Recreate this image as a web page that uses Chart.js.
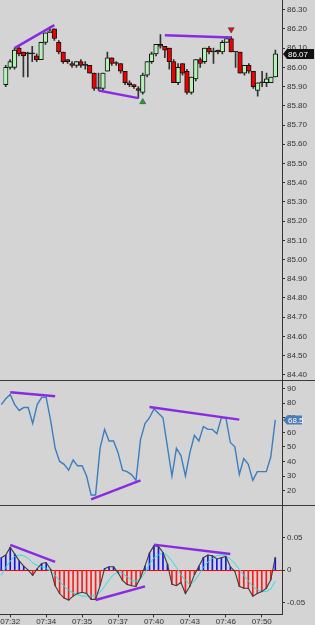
<!DOCTYPE html>
<html>
<head>
<meta charset="utf-8">
<script src="https://cdn.jsdelivr.net/npm/chart.js@4.4.0/dist/chart.umd.min.js"></script>
<style>
  html, body { margin:0; padding:0; background:#d4d4d4; }
  #page { position:relative; width:315px; height:625px; overflow:hidden; background:#d4d4d4; }
  .pane { position:absolute; left:0; width:315px; overflow:hidden; }
  .pane canvas { position:absolute; left:-1px; top:-5px; }
  .sep { position:absolute; left:0; width:315px; height:1px; background:#3a3a3a; }
  #axisLine { position:absolute; left:282px; top:0; width:1px; height:614px; background:#333; }
</style>
</head>
<body>
<div id="page">
  <div class="pane" style="top:0;height:380px"><canvas id="priceChart" width="316" height="390"></canvas></div>
  <div class="pane" style="top:380px;height:125px"><canvas id="rsiChart" width="316" height="135"></canvas></div>
  <div class="pane" style="top:505px;height:120px"><canvas id="macdChart" width="316" height="127"></canvas></div>
  <div class="sep" style="top:380px"></div>
  <div class="sep" style="top:505px"></div>
  <div id="axisLine"></div>
</div>
<script>
// velas (una por barra)
var opens  = [85.91,86.00,86.00,86.10,86.08,86.07,86.07,86.06,86.04,86.13,
              86.18,86.20,86.13,86.08,86.04,86.02,86.01,86.03,86.01,86.01,
              85.97,85.89,85.89,85.98,86.05,86.02,86.02,85.98,85.92,85.91,
              85.89,85.87,85.96,86.03,86.07,86.12,86.11,86.10,86.03,85.92,
              86.02,85.98,85.87,85.94,86.04,86.03,86.10,86.08,86.09,86.08,
              86.13,86.15,86.08,86.08,85.97,86.01,85.98,85.88,85.92,85.92,
              85.92,85.95];
var highs  = [86.01,86.04,86.10,86.11,86.08,86.08,86.11,86.07,86.13,86.18,
              86.21,86.20,86.14,86.08,86.04,86.03,86.03,86.04,86.03,86.01,
              85.97,85.97,85.97,86.08,86.05,86.03,86.02,85.98,85.93,85.91,
              85.90,85.97,86.03,86.08,86.12,86.17,86.11,86.10,86.04,86.02,
              86.02,85.99,85.95,86.04,86.05,86.10,86.11,86.10,86.09,86.14,
              86.16,86.16,86.08,86.08,86.01,86.02,85.98,85.92,85.98,85.97,
              85.95,86.09];
var lows   = [85.90,85.99,85.99,86.06,85.95,85.95,86.03,86.03,86.04,86.12,
              86.18,86.14,86.07,86.02,86.02,86.00,86.00,86.00,85.99,85.97,
              85.88,85.88,85.88,85.98,86.01,86.01,85.97,85.91,85.90,85.89,
              85.84,85.86,85.95,86.02,86.06,86.10,86.05,85.99,85.92,85.91,
              85.96,85.86,85.86,85.93,86.00,86.02,86.07,86.02,86.07,86.07,
              86.13,86.08,86.00,85.97,85.96,85.97,85.89,85.85,85.90,85.90,
              85.92,85.95];
var closes = [86.00,86.03,86.09,86.07,86.06,86.07,86.07,86.04,86.13,86.18,
              86.19,86.15,86.08,86.03,86.03,86.01,86.03,86.01,86.01,85.97,
              85.89,85.89,85.97,86.05,86.02,86.02,85.98,85.92,85.91,85.90,
              85.88,85.96,86.03,86.07,86.12,86.11,86.09,86.03,85.92,86.00,
              85.97,85.87,85.95,86.04,86.02,86.10,86.08,86.08,86.08,86.13,
              86.15,86.08,86.08,85.97,86.01,85.98,85.90,85.92,85.92,85.94,
              85.95,86.07];

// oscilador
var rsi = [79,83,86,79,75,77,77,66,79,84,
           84,68,49,40,38,34,41,37,37,30,
           17,17,49,62,54,54,46,34,33,31,
           27,55,66,70,76,73,70,50,30,49,
           44,30,46,58,54,64,62,62,59,70,
           70,53,50,31,42,38,27,33,33,33,
           43,68.5];

// macd e histograma
var macd = [0.019,0.023,0.035,0.0245,0.014,0.006,0.0,-0.008,0.002,0.010,
            0.0115,0.001,-0.024,-0.036,-0.043,-0.046,-0.040,-0.036,-0.034,-0.036,
            -0.045,-0.045,-0.024,0.002,0.005,0.005,-0.004,-0.016,-0.022,-0.024,
            -0.025,-0.012,0.006,0.026,0.0375,0.036,0.027,0.009,-0.022,-0.024,
            -0.019,-0.036,-0.025,-0.007,0.006,0.019,0.023,0.022,0.017,0.019,
            0.021,0.005,-0.002,-0.025,-0.028,-0.028,-0.040,-0.036,-0.033,-0.028,
            -0.015,0.019];
var signal = [-0.008,0.004,0.014,0.021,0.023,0.022,0.018,0.011,0.007,0.005,
              0.003,-0.002,-0.008,-0.017,-0.025,-0.031,-0.035,-0.038,-0.040,-0.040,
              -0.040,-0.039,-0.034,-0.025,-0.015,-0.007,-0.003,-0.005,-0.010,-0.016,
              -0.017,-0.014,-0.004,0.009,0.019,0.023,0.027,0.022,0.014,0.004,
              -0.007,-0.016,-0.022,-0.017,-0.007,0.004,0.0125,0.018,0.022,0.023,
              0.022,0.017,0.010,0.001,-0.008,-0.017,-0.025,-0.030,-0.033,-0.033,
              -0.029,-0.017];

// etiquetas de hora (indice de barra, texto)
var tickIdx = [2,10,18,26,34,42,50,58];
var tickTxt = ['07:32','07:34','07:35','07:37','07:40','07:43','07:46','07:50'];

// divergencias: [barra inicio, valor, barra fin, valor]
var priceDiv = [[2,86.10,11,86.22],[21,85.88,30,85.84],[36,86.167,51,86.156]];
var rsiDiv   = [[2,87.5,12,84.7],[20,14,31,27],[33,77.3,53,68.7]];
var macdDiv  = [[2,0.0386,12,0.0125],[21,-0.0458,32,-0.025],[34,0.039,51,0.0245]];
var buyMark  = [31,85.82];
var sellMark = [51,86.197];

var nSlots = 63;   // 62 barras + un hueco a la derecha
var labels = [];
for (var i = 0; i < nSlots; i++) labels.push('');
for (var i = 0; i < tickIdx.length; i++) labels[tickIdx[i]] = tickTxt[i];

Chart.defaults.font.family = '"Liberation Sans", Arial, sans-serif';
Chart.defaults.animation = false;

var purple = '#8a2be2';
function divSets(list) {
  return list.map(function(d){
    var data = [];
    for (var i = 0; i < nSlots; i++) data.push(null);
    data[d[0]] = d[1]; data[d[2]] = d[3];
    return {type:'line', data:data, spanGaps:true, borderColor:purple, borderWidth:2.5,
            pointRadius:0, order:0, clip:false};
  });
}
function markSet(m, color, rot) {
  var data = [];
  for (var i = 0; i < nSlots; i++) data.push(null);
  data[m[0]] = m[1];
  return {type:'line', data:data, showLine:false, pointStyle:'triangle', pointRadius:3.5,
          pointRotation:rot, pointBackgroundColor:color, pointBorderColor:'#333',
          pointBorderWidth:0.5, order:0, clip:false};
}
function yAxis(min, max, step, fmt) {
  return {
    position:'right', min:min, max:max,
    border:{display:false},
    grid:{drawOnChartArea:false, tickLength:3, tickColor:'#333'},
    ticks:{stepSize:step, includeBounds:false, padding:2, color:'#333', font:{size:8}, callback:fmt},
    afterFit:function(s){ s.width = 33; }
  };
}
var hiddenX = {offset:true, display:false};

// etiqueta del ultimo valor sobre el eje
var valueTag = {
  id:'valueTag',
  afterDatasetsDraw:function(chart, args, o){
    var y = chart.scales.y.getPixelForValue(o.value);
    var x = chart.chartArea.right;
    var c = chart.ctx;
    c.save();
    c.fillStyle = o.bg;
    c.beginPath();
    c.moveTo(x + 1, y);
    c.lineTo(x + 5, y - o.h/2);
    c.lineTo(x + o.w, y - o.h/2);
    c.lineTo(x + o.w, y + o.h/2);
    c.lineTo(x + 5, y + o.h/2);
    c.closePath();
    c.fill();
    c.fillStyle = '#fff';
    c.font = '8px "Liberation Sans", Arial';
    c.textBaseline = 'middle';
    c.fillText(o.text, x + 6, y + 0.5);
    c.restore();
  }
};

// Grafica de precio (velas)
var wicks = [], bodies = [], bodyColors = [];
for (var i = 0; i < closes.length; i++) {
  wicks.push([lows[i], highs[i]]);
  bodies.push([opens[i], closes[i]]);
  bodyColors.push(closes[i] > opens[i] ? '#b2f2b2' : (closes[i] < opens[i] ? '#ee0000' : '#222'));
}
new Chart(document.getElementById('priceChart'), {
  type:'bar',
  data:{
    labels:labels,
    datasets:[
      {data:wicks, backgroundColor:'#333', barThickness:1, grouped:false, order:3},
      {data:bodies, backgroundColor:bodyColors, borderColor:'#111', borderWidth:1,
       borderSkipped:false, barThickness:4.6, minBarLength:1, grouped:false, order:2}
    ].concat(divSets(priceDiv), [markSet(buyMark,'#1aa52a',0), markSet(sellMark,'#e01010',180)])
  },
  options:{
    responsive:false,
    plugins:{legend:{display:false}, tooltip:{enabled:false},
             valueTag:{value:closes[closes.length-1], text:closes[closes.length-1].toFixed(2), bg:'#111', w:32, h:10}},
    scales:{
      x:hiddenX,
      y:yAxis(84.3825, 86.3412, 0.1, function(v){ return v.toFixed(2); })
    }
  },
  plugins:[valueTag]
});

// Grafica RSI
new Chart(document.getElementById('rsiChart'), {
  type:'line',
  data:{
    labels:labels,
    datasets:[
      {data:rsi, borderColor:'#3c7ebf', borderWidth:1.4, pointRadius:0, order:1}
    ].concat(divSets(rsiDiv))
  },
  options:{
    responsive:false,
    plugins:{legend:{display:false}, tooltip:{enabled:false},
             valueTag:{value:rsi[rsi.length-1], text:rsi[rsi.length-1].toFixed(1), bg:'#4a7cb5', w:20, h:9}},
    scales:{
      x:hiddenX,
      y:yAxis(11.33, 94.67, 10, function(v){ return v; })
    }
  },
  plugins:[valueTag]
});

// Grafica MACD
var histColors = macd.map(function(v){ return v >= 0 ? '#1414e6' : '#ff1a1a'; });
var macdY = yAxis(-0.068, 0.097, 0.05, function(v){ return Math.abs(v) < 1e-9 ? '0' : v.toFixed(2); });
macdY.grid = {drawOnChartArea:true, tickLength:3, tickColor:'#333',
              color:function(c){ return c.tick && Math.abs(c.tick.value) < 1e-9 ? '#ff0000' : 'rgba(0,0,0,0)'; }};
new Chart(document.getElementById('macdChart'), {
  type:'bar',
  data:{
    labels:labels,
    datasets:[
      {data:macd, backgroundColor:histColors, barThickness:1, grouped:false, order:3},
      {type:'line', data:signal, borderColor:'#22e0ea', borderWidth:1, pointRadius:0, order:2},
      {type:'line', data:macd, borderColor:'#3c3c3c', borderWidth:1.1, pointRadius:0, order:1}
    ].concat(divSets(macdDiv))
  },
  options:{
    responsive:false,
    plugins:{legend:{display:false}, tooltip:{enabled:false}},
    scales:{
      x:{offset:true,
         border:{display:true, color:'#333'},
         grid:{offset:false, drawOnChartArea:false, tickLength:3, tickColor:'#333'},
         ticks:{autoSkip:false, maxRotation:0, padding:0, color:'#333', font:{size:8}},
         afterBuildTicks:function(s){
           s.ticks = s.ticks.filter(function(t){ return tickIdx.indexOf(t.value) >= 0; });
         }},
      y:macdY
    }
  }
});
</script>
</body>
</html>
